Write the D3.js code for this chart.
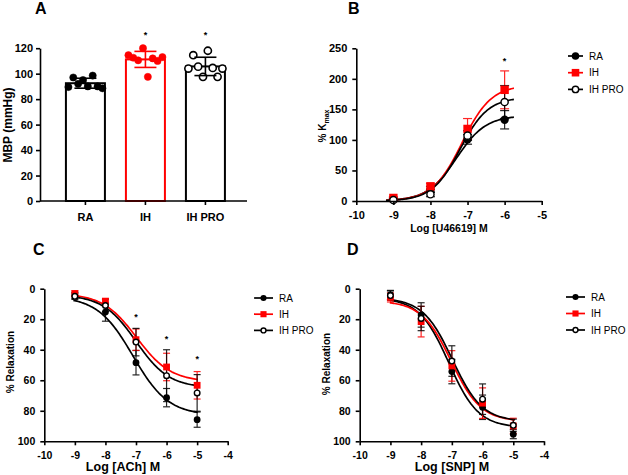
<!DOCTYPE html>
<html><head><meta charset="utf-8">
<script src="https://cdn.jsdelivr.net/npm/d3@7"></script>
<style>body{margin:0;background:#fff}svg{display:block}</style>
</head><body>
<svg id="fig" width="628" height="475"></svg>
<script>
// ---------- DATA ----------
const groups = ["RA", "IH", "IH PRO"];
// Panel A: individual MBP values (mmHg), listed left-to-right as plotted
const mbpRA = [89.5, 97, 92, 95, 90, 98.5, 90, 88.5];
const mbpIH = [114.5, 112.5, 110.5, 120, 97.5, 112, 110, 113];
const mbpIHPRO = [104, 114.5, 105.5, 97.5, 118, 104.5, 97.5, 104];
const mbpMean = [92.5, 111.2, 105.7];
const mbpSD = [3.9, 6.3, 7.2];
const mbpTicks = [0, 20, 40, 60, 80, 100, 120];
const starsA = ["IH", "IH PRO"];

// Panel B: U46619 contraction (% Kmax)
const logU46 = [-9, -8, -7, -6];
const u46RA = [3, 19, 101, 133];
const u46RAerr = [2, 5, 8, 15];
const u46IH = [5, 24, 118, 182];
const u46IHerr = [2, 5, 17, 31];
const u46IHPRO = [1.5, 11, 107, 162];
const u46IHPROerr = [2, 4, 8, 27];
const ticksBy = [0, 50, 100, 150, 200, 250];
const ticksBx = [-10, -9, -8, -7, -6, -5];
const starsB = [-6];
// fitted curves [bottom, top, logEC50, hill]
const fitB_RA = [0, 140, -7.3, 1.1];
const fitB_IH = [0, 190, -7.15, 1.1];
const fitB_IHPRO = [0, 170, -7.2, 1.15];

// Panel C: ACh relaxation (%)
const logACh = [-9, -8, -7, -6, -5];
const achRA = [4.4, 15.3, 48.5, 71.4, 85.8];
const achRAerr = [2, 6, 8, 6, 5];
const achIH = [3.3, 8.3, 33.4, 51.3, 63.3];
const achIHerr = [2, 2, 7, 9, 9];
const achIHPRO = [5, 11, 35, 57, 68.3];
const achIHPROerr = [2, 4, 9, 17, 12];
const ticksCy = [0, 20, 40, 60, 80, 100];
const ticksCx = [-10, -9, -8, -7, -6, -5, -4];
const starsC = [-7, -6, -5];
const starsCy = [18.6, 32.8, 45.9];
const fitC_RA = [5, 83, -7.1, 0.75];
const fitC_IH = [3, 61, -6.98, 0.78];
const fitC_IHPRO = [4, 65, -7.0, 0.8];

// Panel D: SNP relaxation (%)
const logSNP = [-9, -8, -7, -6, -5];
const snpRA = [4.1, 17.2, 54.3, 77.7, 95.3];
const snpRAerr = [3, 8, 8, 8, 3];
const snpIH = [5.7, 21.6, 50.6, 75, 89.9];
const snpIHerr = [3, 10, 10, 10, 5];
const snpIHPRO = [4.5, 19.5, 47.4, 72.4, 89.5];
const snpIHPROerr = [3, 8, 10, 10, 4];
const fitD_RA = [6, 91, -7.1, 0.9];
const fitD_IH = [8, 87, -7.02, 0.9];
const fitD_IHPRO = [6, 87, -6.98, 0.9];

// ---------- DRAW ----------
const FONT = "'Liberation Sans', Arial, Helvetica, sans-serif";
const RED = "#ff0000", BLK = "#000000";
const svg = d3.select("#fig");
svg.attr("font-family", FONT);
const fmt = d => String(d);

function styleAxis(g, fs) {
  g.selectAll("path.domain").attr("stroke", "#000").attr("stroke-width", 1.6);
  g.selectAll(".tick line").attr("stroke", "#000").attr("stroke-width", 1.6);
  g.selectAll(".tick text").attr("font-size", fs).attr("font-weight", "bold").attr("fill", "#000").attr("font-family", FONT);
}
function panelLabel(txt, x, y) {
  svg.append("text").attr("x", x).attr("y", y).text(txt)
    .attr("font-size", 16).attr("font-weight", "bold");
}
function sig(p) { return x => p[0] + (p[1] - p[0]) / (1 + Math.pow(10, (p[2] - x) * p[3])); }

// ===== Panel A =====
panelLabel("A", 35, 14);
const yA = d3.scaleLinear().domain([0, 120]).range([201, 48.2]);
const xA = d3.scaleBand().domain(groups).range([40, 247]).paddingInner(0.35).paddingOuter(0.4).align(0.54);
const gA = svg.append("g");
const aCols = [BLK, RED, BLK];
gA.selectAll("rect.bar").data(groups).join("rect")
  .attr("x", d => xA(d)).attr("width", xA.bandwidth())
  .attr("y", (d, i) => yA(mbpMean[i])).attr("height", (d, i) => yA(0) - yA(mbpMean[i]))
  .attr("fill", "#fff").attr("stroke", (d, i) => aCols[i]).attr("stroke-width", 2);
const ptsA = [mbpRA, mbpIH, mbpIHPRO];
ptsA.forEach((arr, gi) => {
  const cx = xA(groups[gi]) + xA.bandwidth() / 2;
  const n = arr.length;
  arr.forEach((v, i) => {
    const off = (i - (n - 1) / 2) * (34 / (n - 1));
    gA.append("circle").attr("cx", cx + off).attr("cy", yA(v)).attr("r", 3.6)
      .attr("fill", gi === 2 ? "#fff" : aCols[gi])
      .attr("stroke", aCols[gi]).attr("stroke-width", gi === 2 ? 1.6 : 0.5);
  });
  const m = mbpMean[gi], s = mbpSD[gi];
  const eg = gA.append("g").attr("stroke", aCols[gi]).attr("stroke-width", 1.6);
  eg.append("line").attr("x1", cx).attr("x2", cx).attr("y1", yA(m - s)).attr("y2", yA(m + s));
  eg.append("line").attr("x1", cx - 11).attr("x2", cx + 11).attr("y1", yA(m + s)).attr("y2", yA(m + s));
  eg.append("line").attr("x1", cx - 11).attr("x2", cx + 11).attr("y1", yA(m - s)).attr("y2", yA(m - s));
});
starsA.forEach(g => {
  gA.append("text").attr("x", xA(g) + xA.bandwidth() / 2).attr("y", yA(128)).text("*")
    .attr("text-anchor", "middle").attr("font-size", 9).attr("font-weight", "bold");
});
const axAy = gA.append("g").attr("transform", "translate(40,0)")
  .call(d3.axisLeft(yA).tickValues(mbpTicks).tickFormat(fmt).tickSize(4).tickSizeOuter(0).tickPadding(3));
styleAxis(axAy, 11);
gA.append("line").attr("x1", 40).attr("x2", 247).attr("y1", 201).attr("y2", 201)
  .attr("stroke", "#000").attr("stroke-width", 1.6);
const axAx = gA.append("g").attr("transform", "translate(0,201)")
  .call(d3.axisBottom(xA).tickSize(4).tickPadding(8));
axAx.select("path.domain").remove();
styleAxis(axAx, 11);
gA.append("text").attr("transform", "translate(12,125) rotate(-90)").attr("text-anchor", "middle")
  .text("MBP (mmHg)").attr("font-size", 12).attr("font-weight", "bold");

// ===== generic XY panel =====
function marker(g, shape, cx, cy, ms) {
  if (shape === "sq") {
    g.append("rect").attr("x", cx - ms).attr("y", cy - ms).attr("width", 2 * ms).attr("height", 2 * ms).attr("fill", RED);
  } else if (shape === "open") {
    g.append("circle").attr("cx", cx).attr("cy", cy).attr("r", ms - 0.6).attr("fill", "#fff").attr("stroke", "#000").attr("stroke-width", 1.4);
  } else {
    g.append("circle").attr("cx", cx).attr("cy", cy).attr("r", ms).attr("fill", "#000");
  }
}
function xyPanel(o) {
  const g = svg.append("g");
  const x = d3.scaleLinear().domain(o.xd).range(o.xr);
  const y = d3.scaleLinear().domain(o.yd).range(o.yr);
  const xs = d3.range(0, 101).map(i => o.cx[0] + (o.cx[1] - o.cx[0]) * i / 100);
  const line = d3.line().x(d => x(d[0])).y(d => y(d[1]));
  o.series.forEach(s => {
    const f = sig(s.fit);
    g.append("path").attr("d", line(xs.map(v => [v, f(v)])))
      .attr("fill", "none").attr("stroke", s.col).attr("stroke-width", 1.7);
  });
  o.series.forEach(s => {
    const eg = g.append("g").attr("stroke", s.col).attr("stroke-width", 1.2).attr("opacity", 0.85);
    o.xv.forEach((xv, i) => {
      const v = s.v[i], e = s.e[i];
      eg.append("line").attr("x1", x(xv)).attr("x2", x(xv)).attr("y1", y(v - e)).attr("y2", y(v + e));
      [v - e, v + e].forEach(t => eg.append("line").attr("x1", x(xv) - o.cap).attr("x2", x(xv) + o.cap).attr("y1", y(t)).attr("y2", y(t)));
    });
  });
  o.series.forEach(s => {
    o.xv.forEach((xv, i) => marker(g, s.shape, x(xv), y(s.v[i]), o.ms));
  });
  o.stars.forEach(st => g.append("text").attr("x", x(st[0])).attr("y", y(st[1]) + 3).text("*")
    .attr("text-anchor", "middle").attr("font-size", 9).attr("font-weight", "bold"));
  const ay = g.append("g").attr("transform", `translate(${o.xr[0]},0)`)
    .call(d3.axisLeft(y).tickValues(o.yt).tickFormat(fmt).tickSize(4).tickSizeOuter(0).tickPadding(5));
  styleAxis(ay, o.tfs);
  const ax = g.append("g").attr("transform", `translate(0,${o.invert ? o.yr[1] : o.yr[0]})`)
    .call(d3.axisBottom(x).tickValues(o.xt).tickFormat(fmt).tickSize(4).tickSizeOuter(0).tickPadding(6));
  styleAxis(ax, o.tfs);
  g.append("text").attr("x", o.xtitle[1]).attr("y", o.xtitle[2]).attr("text-anchor", "middle")
    .text(o.xtitle[0]).attr("font-size", o.xtfs).attr("font-weight", "bold");
  const yt = g.append("text").attr("transform", `translate(${o.ytitle[1]},${o.ytitle[2]}) rotate(-90)`)
    .attr("text-anchor", "middle").attr("font-size", 10).attr("font-weight", "bold");
  if (o.ytitle[0] === "Kmax") {
    yt.append("tspan").text("% K");
    yt.append("tspan").text("max").attr("font-size", 7).attr("dy", 2.5);
  } else yt.text(o.ytitle[0]);
  o.series.forEach((s, i) => {
    const ly = o.leg[1] + i * o.leg[3];
    g.append("line").attr("x1", o.leg[0]).attr("x2", o.leg[0] + o.leg[2]).attr("y1", ly).attr("y2", ly)
      .attr("stroke", s.col).attr("stroke-width", 1.7);
    marker(g, s.shape, o.leg[0] + o.leg[2] / 2, ly, o.ms * 0.9);
    g.append("text").attr("x", o.leg[0] + o.leg[2] + 6).attr("y", ly + 3.6).text(s.name)
      .attr("font-size", 10).attr("fill", "#000");
  });
}

// ===== Panel B =====
panelLabel("B", 348, 14);
xyPanel({
  xd: [-10, -5], xr: [356.3, 541.7], yd: [0, 250], yr: [201, 48.3], cx: [-9.2, -5.75],
  xv: logU46, cap: 4.5, ms: 4.2, tfs: 11, xtfs: 10.5,
  series: [
    { name: "RA", v: u46RA, e: u46RAerr, col: BLK, shape: "dot", fit: fitB_RA },
    { name: "IH", v: u46IH, e: u46IHerr, col: RED, shape: "sq", fit: fitB_IH },
    { name: "IH PRO", v: u46IHPRO, e: u46IHPROerr, col: BLK, shape: "open", fit: fitB_IHPRO }
  ],
  stars: starsB.map(s => [s, 229]),
  yt: ticksBy, xt: ticksBx,
  xtitle: ["Log [U46619] M", 449, 232], ytitle: ["Kmax", 326, 126],
  leg: [568, 56, 15, 16.7]
});

// ===== Panel C =====
panelLabel("C", 33, 255);
xyPanel({
  xd: [-10, -4], xr: [44.3, 227.7], yd: [0, 100], yr: [288.7, 441.3], invert: true, cx: [-9.05, -4.98],
  xv: logACh, cap: 3.5, ms: 3.4, tfs: 10.5, xtfs: 12.5,
  series: [
    { name: "RA", v: achRA, e: achRAerr, col: BLK, shape: "dot", fit: fitC_RA },
    { name: "IH", v: achIH, e: achIHerr, col: RED, shape: "sq", fit: fitC_IH },
    { name: "IH PRO", v: achIHPRO, e: achIHPROerr, col: BLK, shape: "open", fit: fitC_IHPRO }
  ],
  stars: starsC.map((s, i) => [s, starsCy[i]]),
  yt: ticksCy, xt: ticksCx,
  xtitle: ["Log [ACh] M", 123, 471], ytitle: ["% Relaxation", 14, 362],
  leg: [254, 298, 19, 16.2]
});

// ===== Panel D =====
panelLabel("D", 347, 255);
xyPanel({
  xd: [-10, -4], xr: [359.7, 544], yd: [0, 100], yr: [288.7, 441.3], invert: true, cx: [-9.02, -4.95],
  xv: logSNP, cap: 3.5, ms: 3.4, tfs: 10.5, xtfs: 12.5,
  series: [
    { name: "RA", v: snpRA, e: snpRAerr, col: BLK, shape: "dot", fit: fitD_RA },
    { name: "IH", v: snpIH, e: snpIHerr, col: RED, shape: "sq", fit: fitD_IH },
    { name: "IH PRO", v: snpIHPRO, e: snpIHPROerr, col: BLK, shape: "open", fit: fitD_IHPRO }
  ],
  stars: [],
  yt: ticksCy, xt: ticksCx,
  xtitle: ["Log [SNP] M", 452, 471], ytitle: ["% Relaxation", 330, 364],
  leg: [566, 297, 19, 16.5]
});
</script>
</body></html>
